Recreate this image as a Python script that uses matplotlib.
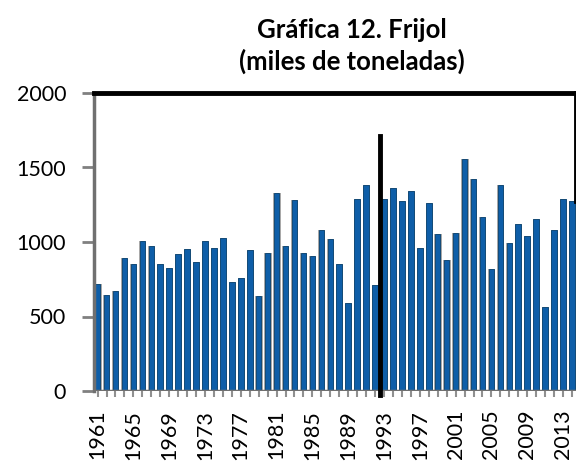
import matplotlib.pyplot as plt
import numpy as np

# production of beans, thousands of tonnes
years = list(range(1961, 2015))
values = [718, 645, 671, 891, 855, 1008, 972, 855, 826, 918,
          954, 864, 1008, 963, 1026, 734, 761, 945, 635, 927,
          1327, 972, 1282, 927, 909, 1080, 1017, 855, 590, 1291,
          1380, 712, 1291, 1362, 1273, 1345, 963, 1264, 1053, 882,
          1062, 1556, 1421, 1165, 820, 1385, 990, 1120, 1039, 1156,
          564, 1080, 1291, 1273]
yticks = [0, 500, 1000, 1500, 2000]
title = 'Gráfica 12. Frijol\n(miles de toneladas)'

fig = plt.figure(figsize=(5.76, 4.65), dpi=100)
ax = fig.add_axes([94 / 576, 74 / 465, 482 / 576, 298 / 465])

x = np.arange(len(years))
# gray shadow then the blue bars
ax.bar(x + 0.04, values, width=0.8, color='#a8a8a8', linewidth=0, zorder=1)
ax.bar(x, values, width=0.62, color='#0e5ea8', edgecolor='#08426f', linewidth=0.6, zorder=2)

ax.set_xlim(-0.4, len(years) - 0.55)
ax.set_ylim(0, 2000)
ax.set_yticks(yticks)
ax.set_yticklabels([str(v) for v in yticks], fontsize=15.5, family='Lato')
ax.set_xticks(x[::4])
ax.set_xticklabels([str(years[i]) for i in x[::4]], rotation=90, fontsize=15.5, family='Lato')
ax.set_xticks(x, minor=True)

# frame
for s in ['top', 'right', 'bottom']:
    ax.spines[s].set_visible(False)
ax.spines['left'].set_color('#707070')
ax.spines['left'].set_linewidth(2.5)
ax.axhline(0, color='#707070', lw=2.5, zorder=3)
ax.tick_params(axis='y', color='#808080', width=2, length=9, pad=11)
ax.tick_params(axis='x', which='both', color='#909090', width=1.5, length=4.5, pad=9)

ax.plot([-0.4, len(years) - 0.55], [2000, 2000], color='black', lw=3.5, clip_on=False, zorder=4)
ax.plot([len(years) - 0.55] * 2, [2000, values[-1]], color='black', lw=3.5, clip_on=False, zorder=4)
ax.plot([31.5, 31.5], [-30, 1710], color='black', lw=3.5, clip_on=False, zorder=4)

fig.text(352 / 576, 1 - 46 / 465, title, ha='center', va='center', fontsize=18.5,
         fontweight='bold', family='Lato', linespacing=1.3)

fig.savefig('out.png', dpi=100)
